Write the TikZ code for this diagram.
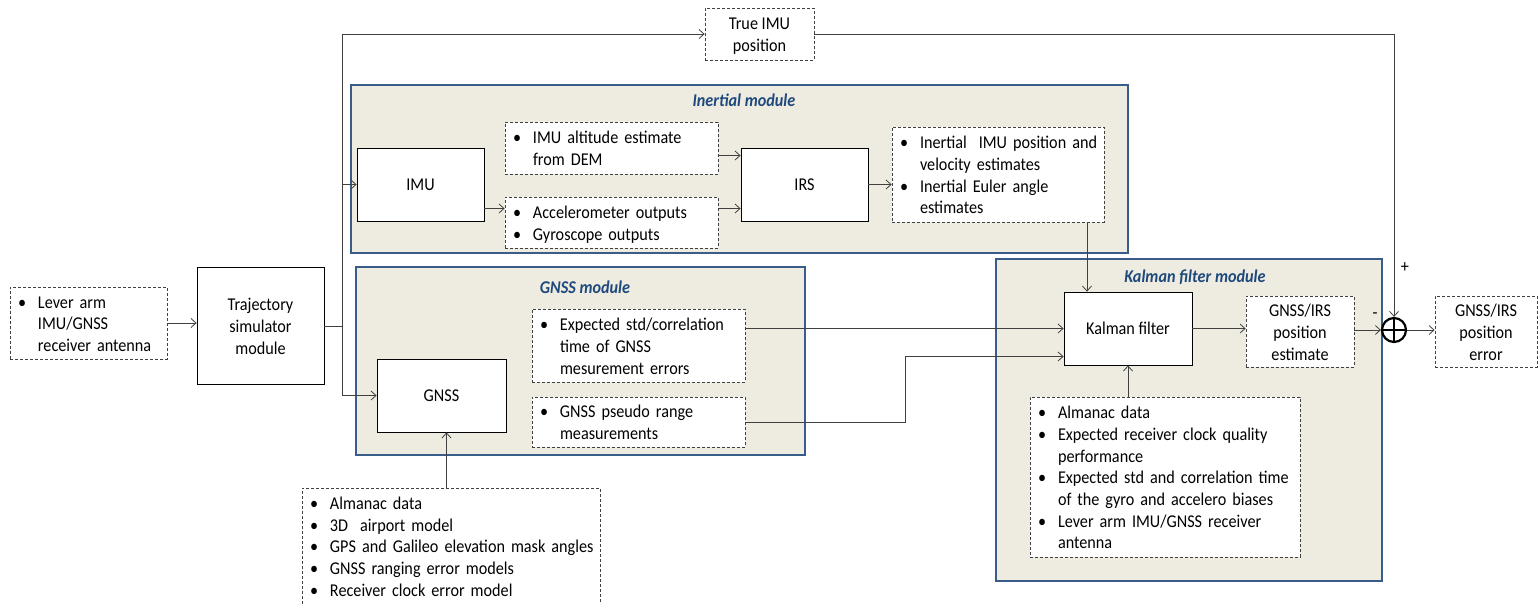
\documentclass[tikz,border=0pt]{standalone}
\usepackage{fontspec}
\setmainfont{Carlito}[FakeStretch=0.9]
\usepackage{tikz}
\usetikzlibrary{arrows.meta,calc,positioning}
\definecolor{modblue}{HTML}{385D8A}
\definecolor{modfill}{HTML}{EEECE1}
\definecolor{titleblue}{HTML}{1F497D}
\definecolor{linegray}{HTML}{404040}
\newcommand{\bu}{\makebox[20pt][l]{\textbullet}}
\newcommand{\blist}[1]{\raisebox{-2.5pt}[\height][\depth]{\begin{tabular}{@{}l@{}l@{}}#1\end{tabular}}}
\newcommand{\clist}[1]{\raisebox{-2.5pt}[\height][\depth]{\begin{tabular}{@{}c@{}}#1\end{tabular}}}

\begin{document}
\begin{tikzpicture}[x=1pt,y=-1pt,
  every node/.style={font=\fontsize{18}{21.7}\selectfont},
  block/.style={draw=black,fill=white,line width=0.8pt,minimum width=127pt,minimum height=73pt,align=center,inner sep=2pt},
  dbox/.style={draw=linegray,fill=white,dash pattern=on 3pt off 2pt,line width=0.8pt,inner ysep=2pt,align=center},
  blist/.style={dbox,inner xsep=8pt,text width=#1,align=left},
  module/.style={draw=modblue,fill=modfill,line width=2.2pt,inner sep=0pt},
  modtitle/.style={text=titleblue,font=\fontsize{18}{21.7}\selectfont\bfseries\itshape},
  arr/.style={draw=linegray,line width=0.8pt,-{Straight Barb[length=5pt,width=9pt]}}]
  \path[use as bounding box,fill=white] (0,0) rectangle (1539,603);
  % modules
  \node[module,minimum width=777pt,minimum height=168pt] (inertial) at (739.5,169) {};
  \node[module,minimum width=449pt,minimum height=188pt] (gnssmod) at (580.5,361) {};
  \node[module,minimum width=386pt,minimum height=322pt] (kfmod) at (1189,420) {};
  \node[modtitle] (inerttitle) at (744,100) {Inertial module};
  \node[modtitle] (gnsstitle) at (585,287) {GNSS module};
  \node[modtitle] (kftitle) at (1195,277) {Kalman filter module};
  % blocks
  \node[blist=141pt,minimum height=72pt] (lever) at (88.5,323) {\blist{\bu&Lever arm\\&IMU/GNSS\\&receiver antenna}};
  \node[block,minimum height=117pt] (traj) at (260.5,325.5) {\clist{Trajectory\\simulator\\module}};
  \node[dbox,minimum width=109pt,minimum height=52pt] (trueimu) at (759.5,34) {\clist{True IMU\\position}};
  \node[block] (imu) at (420.5,184.5) {IMU};
  \node[blist=197pt,minimum height=52pt] (altitude) at (611.5,148) {\blist{\bu&IMU altitude estimate\\&from DEM}};
  \node[blist=197pt,minimum height=51pt] (sensors) at (611.5,222.5) {\blist{\bu&Accelerometer outputs\\\bu&Gyroscope outputs}};
  \node[block] (irs) at (804.5,184.5) {IRS};
  \node[blist=196pt,minimum height=95pt] (inertout) at (998,174.5) {\blist{\bu&Inertial\ \ IMU position and\\&velocity estimates\\\bu&Inertial Euler angle\\&estimates}};
  \node[block,minimum width=129pt] (gnss) at (441.5,395.5) {GNSS};
  \node[blist=197pt,minimum height=73pt] (stderr) at (638.5,345.5) {\blist{\bu&Expected std/correlation\\&time of GNSS\\&mesurement errors}};
  \node[blist=197pt,minimum height=50pt] (pseudo) at (638.5,422) {\blist{\bu&GNSS pseudo range\\&measurements}};
  \node[blist=282pt,minimum height=116pt] (gnssdata) at (451,546) {\blist{\bu&Almanac data\\\bu&3D\ \ airport model\\\bu&GPS and Galileo elevation mask angles\\\bu&GNSS ranging error models\\\bu&Receiver clock error model}};
  \node[block,minimum width=128pt] (kf) at (1128,328.5) {Kalman filter};
  \node[dbox,minimum width=108pt,minimum height=71pt] (estimate) at (1300,331.5) {\clist{GNSS/IRS\\position\\estimate}};
  \node[blist=254pt,minimum height=160pt] (kfdata) at (1165,477) {\blist{\bu&Almanac data\\\bu&Expected receiver clock quality\\&performance\\\bu&Expected std and correlation time\\&of the gyro and accelero biases\\\bu&Lever arm IMU/GNSS receiver\\&antenna}};
  \node[circle,draw,fill=white,line width=2.2pt,minimum size=24pt,inner sep=0pt,
    path picture={\draw[line width=2.2pt] (path picture bounding box.north) -- (path picture bounding box.south)
      (path picture bounding box.west) -- (path picture bounding box.east);}] (sum) at (1394,330) {};
  \node[dbox,minimum width=102pt,minimum height=71pt] (poserr) at (1486,331.5) {\clist{GNSS/IRS\\position\\error}};
  \node (plus) at (1405,268) {+};
  \node (minus) at (1375,316) {-};
  % connectors
  \coordinate (split) at (342,326);
  \draw[arr] (lever.east) -- (lever.east -| traj.west);
  \draw[linegray,line width=0.8pt] (traj.east |- split) -- (split);
  \draw[arr] (split) |- (trueimu.west);
  \draw[arr] (split) |- (imu.west);
  \draw[arr] (split) |- (gnss.west);
  \coordinate (imuout) at ([yshift=-24pt]imu.east);
  \draw[arr] (imuout) -- (imuout -| sensors.west);
  \coordinate (irsin1) at ([yshift=29pt]irs.west);
  \coordinate (irsin2) at ([yshift=-24pt]irs.west);
  \draw[arr] (irsin1 -| altitude.east) -- (irsin1);
  \draw[arr] (irsin2 -| sensors.east) -- (irsin2);
  \draw[arr] (irs.east) -- (irs.east -| inertout.west);
  \coordinate (kfin1) at ([xshift=-41pt]kf.north);
  \draw[arr] (kfin1 |- inertout.south) -- (kfin1);
  \draw[arr] (stderr.east |- kf.west) -- (kf.west);
  \coordinate (kfin2) at ([yshift=-28pt]kf.west);
  \coordinate (bend) at (905,422);
  \draw[arr] (pseudo.east) -- (bend) |- (kfin2);
  \coordinate (gnssin) at ([xshift=5pt]gnss.south);
  \draw[arr] (gnssin |- gnssdata.north) -- (gnssin);
  \draw[arr] (kf.south |- kfdata.north) -- (kf.south);
  \draw[arr] (kf.east) -- (kf.east -| estimate.west);
  \draw[arr] (estimate.east |- sum) -- (sum.west);
  \draw[arr] (trueimu.east) -| (sum.north);
  \draw[arr] (sum.east) -- (sum.east -| poserr.west);
\end{tikzpicture}
\end{document}
